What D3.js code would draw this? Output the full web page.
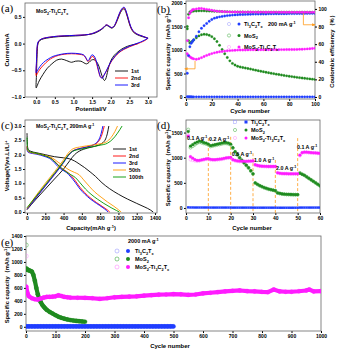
<!DOCTYPE html>
<html>
<head>
<meta charset="utf-8">
<script src="https://cdn.jsdelivr.net/npm/d3@7"></script>
<style>
body { margin: 0; background: #fff; }
text { font-family: "Liberation Sans", Arial, sans-serif; font-weight: bold; }
</style>
</head>
<body>
<div id="fig"></div>
<script>
// ---------- data ----------
// (a) CV, [potential V, current mA]
var cv1st = [[2.73,0.00],[2.6,-0.02],[2.45,-0.05],[2.3,-0.1],[2.15,-0.18],[2.05,-0.26],[1.98,-0.36],[1.93,-0.48],[1.89,-0.6],[1.86,-0.67],[1.83,-0.69],[1.79,-0.65],[1.74,-0.55],[1.68,-0.42],[1.62,-0.34],[1.55,-0.3],[1.48,-0.31],[1.42,-0.35],[1.35,-0.38],[1.28,-0.36],[1.2,-0.33],[1.05,-0.33],[0.95,-0.35],[0.82,-0.32],[0.68,-0.29],[0.55,-0.31],[0.42,-0.38],[0.3,-0.46],[0.18,-0.58],[0.08,-0.7],[0.02,-0.8],[0.0,-0.83],
  [0.01,-0.55],[0.025,-0.2],[0.05,0.0],[0.1,0.06],[0.2,0.09],[0.35,0.11],[0.6,0.13],[0.9,0.14],[1.2,0.15],[1.4,0.17],[1.55,0.19],[1.7,0.24],[1.8,0.29],[1.88,0.34],[1.95,0.32],[2.02,0.29],[2.08,0.31],[2.14,0.38],[2.2,0.48],[2.26,0.58],[2.32,0.64],[2.36,0.65],[2.41,0.58],[2.47,0.44],[2.53,0.31],[2.6,0.22],[2.7,0.17],[2.85,0.13],[3.0,0.1]];
var cv2nd = [[3.0,0.1],[2.92,0.06],[2.8,0.02],[2.65,-0.02],[2.5,-0.06],[2.35,-0.11],[2.22,-0.17],[2.12,-0.24],[2.03,-0.32],[1.95,-0.42],[1.88,-0.52],[1.81,-0.6],[1.76,-0.64],[1.72,-0.62],[1.68,-0.54],[1.64,-0.43],[1.6,-0.33],[1.55,-0.26],[1.5,-0.24],[1.46,-0.27],[1.42,-0.32],[1.38,-0.33],[1.33,-0.27],[1.27,-0.22],[1.15,-0.2],[0.95,-0.19],[0.75,-0.2],[0.6,-0.22],[0.45,-0.26],[0.32,-0.32],[0.2,-0.4],[0.1,-0.48],[0.03,-0.56],[0.0,-0.6],
  [0.01,-0.35],[0.025,-0.08],[0.05,0.02],[0.1,0.07],[0.2,0.1],[0.35,0.12],[0.6,0.14],[0.9,0.15],[1.2,0.16],[1.4,0.17],[1.55,0.2],[1.7,0.25],[1.8,0.3],[1.88,0.35],[1.95,0.33],[2.02,0.3],[2.08,0.32],[2.14,0.39],[2.2,0.5],[2.26,0.6],[2.32,0.66],[2.36,0.67],[2.41,0.6],[2.47,0.46],[2.53,0.32],[2.6,0.23],[2.7,0.18],[2.85,0.14],[3.0,0.1]];
var cv3rd = [[3.0,0.1],[2.92,0.07],[2.8,0.03],[2.65,-0.01],[2.5,-0.05],[2.35,-0.1],[2.22,-0.16],[2.12,-0.23],[2.03,-0.31],[1.95,-0.41],[1.88,-0.51],[1.82,-0.59],[1.77,-0.65],[1.73,-0.63],[1.69,-0.55],[1.65,-0.43],[1.6,-0.3],[1.55,-0.23],[1.5,-0.21],[1.46,-0.24],[1.42,-0.3],[1.38,-0.32],[1.33,-0.26],[1.27,-0.21],[1.15,-0.19],[0.95,-0.18],[0.75,-0.19],[0.6,-0.21],[0.45,-0.24],[0.32,-0.29],[0.2,-0.35],[0.1,-0.43],[0.03,-0.51],[0.0,-0.55],
  [0.01,-0.3],[0.025,-0.06],[0.05,0.03],[0.1,0.07],[0.2,0.1],[0.35,0.12],[0.6,0.14],[0.9,0.15],[1.2,0.16],[1.4,0.17],[1.55,0.2],[1.7,0.25],[1.8,0.3],[1.88,0.35],[1.95,0.33],[2.02,0.3],[2.08,0.32],[2.14,0.4],[2.2,0.51],[2.26,0.61],[2.32,0.67],[2.36,0.68],[2.41,0.61],[2.47,0.47],[2.53,0.33],[2.6,0.24],[2.7,0.18],[2.85,0.14],[3.0,0.1]];
var cvNames = ["1st", "2nd", "3rd"];

// (b) cycling at 200 mA/g
var bCycles = [1,2,3,4,5,6,8,10,12,14,16,18,20,22,24,26,28,30,32,34,36,38,40,42,44,46,48,50,52,54,56,58,60,62,64,66,68,70,72,74,76,78,80,82,84,86,88,90,92,94,96,98,100];
var bTiCap = [8,6,5,5,4,4,4,4,4,4,4,4,4,4,4,4,4,4,4,4,4,4,4,4,4,4,4,4,4,4,4,4,4,4,4,4,4,4,4,4,4,4,4,4,4,4,4,4,4,4,4,4,4];
var bMoCap = [1450,1200,1150,1165,1190,1215,1260,1300,1325,1335,1330,1315,1285,1240,1180,1100,1010,920,840,770,715,680,655,640,628,617,606,595,583,572,560,549,538,528,517,507,497,487,478,469,460,451,443,435,427,419,412,405,398,392,386,380,375];
var bMixCap = [920,880,855,835,822,812,803,815,838,862,886,906,924,940,952,962,970,977,983,988,992,995,998,1000,1001,1002,1003,1004,1005,1005,1006,1006,1007,1007,1007,1008,1008,1008,1008,1009,1009,1010,1010,1011,1012,1013,1015,1017,1020,1024,1028,1034,1040];
var bTiCE = [27,47,57,61,63,65,69,74,78,81,83.5,86,88,89.5,90.3,91,91.5,92,92.4,92.7,93,93.2,93.4,93.6,93.7,93.8,93.9,94,94.1,94.1,94.2,94.2,94.3,94.3,94.4,94.4,94.5,94.5,94.5,94.6,94.6,94.6,94.7,94.7,94.7,94.8,94.8,94.8,94.9,94.9,95,95,95];
var bMoCE = [80,94,96.5,97.2,97.5,97.6,97.7,97.8,97.8,97.8,97.7,97.6,97.5,97.4,97.3,97.2,97,96.9,96.8,96.7,96.6,96.6,96.5,96.5,96.5,96.4,96.5,96.4,96.4,96.4,96.5,96.4,96.3,96.4,96.3,96.3,96.4,96.3,96.3,96.3,96.2,96.3,96.3,96.2,96.3,96.2,96.2,96.3,96.2,96.2,96.2,96.1,96.2];
var bMixCE = [64,90,95,97.5,99,99.5,100,100.5,100.5,100,99.5,99,98.5,98,97.5,97.2,97,96.8,96.7,96.6,96.5,96.5,96.5,96.4,96.5,96.4,96.4,96.5,96.4,96.4,96.3,96.4,96.4,96.3,96.4,96.3,96.3,96.4,96.3,96.3,96.3,96.2,96.3,96.3,96.2,96.2,96.3,96.2,96.2,96.2,96.1,96.2,96.2];
var bArrowCap = [[7,770],[7,600],[-1,600]];   // points to left axis
var bArrowCE = [[91,95],[91,82],[100,82]];     // points to right axis

// (c) charge/discharge profiles, [capacity mAh/g, voltage V]
var dis1st = [[0,2.75],[5,2.3],[15,2.18],[40,2.12],[100,2.07],[200,2.0],[300,1.93],[400,1.89],[460,1.86],[520,1.78],[570,1.68],[630,1.55],[690,1.4],[750,1.24],[820,1.02],[900,0.82],[1000,0.62],[1100,0.45],[1200,0.3],[1290,0.17],[1350,0.07],[1380,0.0]];
var chg1st = [[0,0.08],[50,0.27],[100,0.45],[200,0.8],[300,1.15],[400,1.5],[470,1.8],[520,2.0],[570,2.12],[620,2.19],[700,2.26],[780,2.33],[830,2.42],[860,2.55],[880,2.75],[895,3.0]];
var dis2nd = [[0,2.3],[4,2.16],[20,2.1],[100,2.04],[200,1.96],[260,1.88],[300,1.78],[340,1.64],[380,1.52],[430,1.42],[480,1.28],[530,1.08],[580,0.86],[630,0.68],[690,0.5],[760,0.33],[830,0.18],[880,0.07],[905,0.0]];
var chg2nd = [[0,0.1],[50,0.32],[100,0.52],[200,0.92],[300,1.32],[400,1.75],[450,1.98],[500,2.13],[560,2.2],[650,2.27],[720,2.33],[770,2.42],[800,2.55],[825,2.75],[845,3.0]];
var dis3rd = [[0,2.25],[4,2.12],[20,2.07],[100,2.02],[200,1.93],[260,1.84],[300,1.72],[340,1.58],[380,1.48],[430,1.38],[480,1.22],[530,1.02],[580,0.8],[630,0.63],[690,0.46],[760,0.3],[830,0.15],[870,0.05],[885,0.0]];
var chg3rd = [[0,0.1],[50,0.3],[100,0.5],[200,0.9],[300,1.3],[400,1.72],[450,1.96],[500,2.12],[560,2.2],[650,2.26],[710,2.32],[760,2.42],[790,2.55],[812,2.75],[830,3.0]];
var dis50th = [[0,2.25],[4,2.16],[20,2.1],[100,2.04],[200,1.97],[280,1.88],[340,1.74],[400,1.6],[460,1.47],[520,1.38],[570,1.3],[620,1.12],[680,0.9],[740,0.7],[810,0.52],[880,0.35],[950,0.2],[1000,0.08],[1030,0.0]];
var chg50th = [[0,0.12],[50,0.35],[100,0.58],[200,1.0],[300,1.4],[400,1.82],[450,2.05],[500,2.2],[600,2.28],[700,2.33],[800,2.38],[870,2.45],[920,2.6],[960,2.8],[990,3.0]];
var dis100th = [[0,2.6],[3,2.25],[20,2.12],[100,2.05],[200,1.96],[270,1.85],[320,1.7],[370,1.55],[420,1.42],[480,1.3],[530,1.2],[580,1.02],[640,0.8],[700,0.62],[770,0.45],[840,0.3],[920,0.15],[980,0.05],[1010,0.0]];
var chg100th = [[0,0.15],[50,0.35],[100,0.55],[200,0.95],[300,1.35],[400,1.75],[450,1.98],[500,2.12],[600,2.2],[700,2.27],[800,2.33],[880,2.4],[940,2.55],[990,2.75],[1040,3.0]];
var cNames = ["1st", "2nd", "3rd", "50th", "100th"];

// (d) rate performance
var dCycles = [1,2,3,4,5,6,7,8,9,10,11,12,13,14,15,16,17,18,19,20,21,22,23,24,25,26,27,28,29,30,31,32,33,34,35,36,37,38,39,40,41,42,43,44,45,46,47,48,49,50,51,52,53,54,55,56,57,58,59,60];
var dTi = [12,10,10,9,9,9,9,9,9,9,8,8,8,8,8,8,8,8,8,8,7,7,7,7,7,7,7,7,7,7,6,6,6,6,6,6,6,6,6,6,5,5,5,5,5,5,5,5,5,5,8,8,8,8,8,8,8,8,8,8];
var dMo = [1520,1230,1260,1290,1310,1330,1320,1300,1290,1270, 1240,1250,1260,1270,1280,1290,1300,1300,1290,1270, 1200,1120,1060,1000,950,900,850,800,740,680, 500,470,445,425,405,390,375,365,355,345, 300,290,280,275,272,270,268,266,265,265, 690,670,650,620,590,560,530,500,470,440];
var dMoOpen = [1560,1200,1230,1260,1290,1310,1300,1285,1275,1255, 1225,1235,1245,1255,1265,1275,1285,1285,1275,1255, 1190,1115,1055,995,945,895,845,795,735,675, 495,468,443,423,403,388,373,363,353,343, 298,288,278,273,270,268,266,264,263,263, 700,672,650,620,590,560,530,500,470,440];
var dMix = [1430,1020,990,960,945,945,955,965,975,980, 965,960,960,965,970,975,985,995,1000,1005, 960,945,935,930,930,928,928,930,932,935, 860,845,835,830,828,826,825,825,825,825, 700,690,685,683,682,680,680,680,680,680, 1050,1100,1110,1110,1105,1100,1098,1095,1090,1085];
var dMixOpen = [1450,960,950,940,935,940,950,960,970,975, 960,955,955,960,965,970,980,990,995,1000, 955,940,930,925,925,924,924,926,928,930, 855,842,832,828,826,824,823,823,823,823, 698,688,683,681,680,678,678,678,678,678, 1040,1095,1105,1105,1100,1097,1094,1092,1088,1083];
var dRates = ["0.1 A g^{-1}", "0.2 A g^{-1}", "0.5 A g^{-1}", "1.0 A g^{-1}", "2.0 A g^{-1}", "0.1 A g^{-1}"];
var dRateCycle = [0.5, 10.3, 20.5, 30.5, 40.3, 49.7];
var dRateCap = [1352, 1332, 1034, 915, 755, 1173];
var dSplitCycle = [10, 20, 30, 40, 50];
var dSplitTop = [1390, 1415, 1090, 955, 1390];

// (e) long cycling at 2000 mA/g
var eTiCycles = [1,10,20,30,40,50,60,70,80,90,100,110,120,130,140,150,160,170,180,190,200,210,220,230,240,250,260,270,280,290,300,310,320,330,340,350,360,370,380,390,400,410,420,430,440,450,460,470,480,490,500];
var eTi = [6,5,5,5,5,5,5,5,5,5,5,5,5,5,5,5,5,5,5,5,5,5,5,5,5,5,5,5,5,5,5,5,5,5,5,5,5,5,5,5,5,5,5,5,5,5,5,5,5,5,5];
var eMoCycles = [1,3,5,8,10,15,20,25,30,35,40,45,50,55,60,65,70,80,90,100,110,120,130,140,150,160,170,180,190,200];
var eMo = [900,885,880,875,870,862,850,800,710,600,500,430,380,340,310,285,262,230,205,178,155,138,125,113,104,97,91,86,82,78];
var eMixCycles = [1,5,10,20,30,40,50,60,70,80,90,100,110,120,130,140,150,175,200,225,250,275,300,325,350,375,400,425,450,475,500,525,550,575,600,625,650,675,700,725,750,775,800,820,840,860,880,900,925,950,960,975,1000];
var eMix = [620,520,470,440,425,420,435,450,460,462,465,470,485,475,460,455,450,448,445,440,430,440,455,462,465,470,480,488,495,498,505,500,492,498,515,525,535,545,555,560,550,545,538,535,575,545,540,540,548,560,575,545,550];
var eOpenCycles = [1];
var eMoOpen = [1260];
var eMixOpen = [1090];

var materials = ["Ti_{3}C_{2}T_{x}", "MoS_{2}", "MoS_{2}-Ti_{3}C_{2}T_{x}"];

// ---------- drawing ----------
var fill = { ti: "#1f3dff", mo: "#1f8a1f", mix: "#ff1cff" };
var open = { ti: "#9a9aff", mo: "#3caa3c", mix: "#ff8cff" };
var orange = "#ff9a1a";

var svg = d3.select("#fig").append("svg").attr("width", 338).attr("height", 351);
var defs = svg.append("defs");
defs.append("marker").attr("id", "arr").attr("viewBox", "0 0 10 10").attr("refX", 9).attr("refY", 5)
  .attr("markerWidth", 4).attr("markerHeight", 4).attr("orient", "auto")
  .append("path").attr("d", "M0,0L10,5L0,10z").attr("fill", orange);

// text with _{sub} and ^{sup}
function rich(t, str, size) {
  var parts = str.split(/(_\{[^}]*\}|\^\{[^}]*\})/).filter(s => s.length);
  var off = 0;
  parts.forEach(p => {
    var shift = 0, s = size, txt = p;
    if (p[0] == "_") { shift = size * 0.3; s = size * 0.7; txt = p.slice(2, -1); }
    else if (p[0] == "^") { shift = -size * 0.4; s = size * 0.7; txt = p.slice(2, -1); }
    t.append("tspan").attr("dy", shift - off).attr("font-size", s).text(txt);
    off = shift;
  });
}
function label(x, y, str, size, opt) {
  opt = opt || {};
  var t = svg.append("text").attr("x", x).attr("y", y).attr("font-size", size);
  if (opt.anchor) t.attr("text-anchor", opt.anchor);
  if (opt.rotate) t.attr("transform", `rotate(-90,${x},${y})`);
  if (opt.fill) t.attr("fill", opt.fill);
  rich(t, str, size);
  return t;
}
function tagLabel(x, y, s) {
  svg.append("text").attr("x", x).attr("y", y).attr("font-size", 11)
    .style("font-family", "'Liberation Serif', 'Times New Roman', serif").style("font-weight", "normal").text(s);
}

function makePanel(p) {
  var x = d3.scaleLinear().domain(p.xd).range([p.x0, p.x1]);
  var y = d3.scaleLinear().domain(p.yd).range([p.y1, p.y0]);
  var id = "clip" + p.name;
  defs.append("clipPath").attr("id", id).append("rect")
    .attr("x", p.x0).attr("y", p.y0).attr("width", p.x1 - p.x0).attr("height", p.y1 - p.y0);
  var g = svg.append("g");
  var ax = g.append("g").attr("transform", `translate(0,${p.y1})`)
    .call(d3.axisBottom(x).tickValues(p.xt).tickSize(2).tickPadding(1.5).tickFormat(p.xf || d3.format("d")));
  var ay = g.append("g").attr("transform", `translate(${p.x0},0)`)
    .call(d3.axisLeft(y).tickValues(p.yt).tickSize(2).tickPadding(1.5).tickFormat(p.yf || d3.format("d")));
  [ax, ay].forEach(a => { a.select(".domain").remove(); a.attr("font-size", 5); });
  g.append("rect").attr("x", p.x0).attr("y", p.y0).attr("width", p.x1 - p.x0).attr("height", p.y1 - p.y0)
    .attr("fill", "none").attr("stroke", "#666").attr("stroke-width", 0.8);
  var plot = svg.append("g").attr("clip-path", `url(#${id})`);
  return { x: x, y: y, g: g, plot: plot };
}

function dots(plot, xs, ys, sx, sy, r, color, hollow) {
  plot.append("g").selectAll("circle").data(xs).enter().append("circle")
    .attr("cx", (d, i) => sx(d)).attr("cy", (d, i) => sy(ys[i])).attr("r", r)
    .attr("fill", hollow ? "none" : color).attr("stroke", color).attr("stroke-width", hollow ? 0.5 : 0.3);
}

// ----- (a)
var A = makePanel({ name: "a", x0: 25, x1: 157, y0: 3, y1: 97, xd: [-0.3, 3.24], yd: [-1.0, 0.76],
  xt: [0, 0.5, 1, 1.5, 2, 2.5, 3], yt: [-1, -0.5, 0, 0.5], xf: d3.format(".1f"), yf: d3.format(".1f") });
var lineA = d3.line().x(d => A.x(d[0])).y(d => A.y(d[1])).curve(d3.curveCatmullRom.alpha(0.5));
var cvColors = ["#000000", "#ff0000", "#0000ff"];
[cv1st, cv2nd, cv3rd].forEach((s, i) => A.plot.append("path").attr("d", lineA(s))
  .attr("fill", "none").attr("stroke", cvColors[i]).attr("stroke-width", 0.9));
cvNames.forEach((n, i) => {
  svg.append("line").attr("x1", 115).attr("x2", 128).attr("y1", 71 + i * 7).attr("y2", 71 + i * 7)
    .attr("stroke", cvColors[i]).attr("stroke-width", 0.9);
  label(131, 73 + i * 7, n, 5.5);
});
label(36, 13, "MoS_{2}-Ti_{3}C_{2}T_{x}", 5.2);
label(9, 50, "Current/mA", 6, { anchor: "middle", rotate: true });
label(91, 111, "Potential/V", 6, { anchor: "middle" });
tagLabel(1, 12, "(a)");

// ----- (b)
var B = makePanel({ name: "b", x0: 186, x1: 315, y0: 1, y1: 99, xd: [0, 100], yd: [-42, 2043],
  xt: [0, 20, 40, 60, 80, 100], yt: [0, 500, 1000, 1500, 2000] });
var yCE = d3.scaleLinear().domain([-2.3, 109]).range([99, 1]);
var ar = B.g.append("g").attr("transform", "translate(315,0)")
  .call(d3.axisRight(yCE).tickValues([0, 20, 40, 60, 80, 100]).tickSize(2).tickPadding(1.5));
ar.select(".domain").remove(); ar.attr("font-size", 5);
dots(B.plot, bCycles, bTiCap, B.x, B.y, 1.2, fill.ti);
dots(B.plot, bCycles, bMoCap, B.x, B.y, 1.2, fill.mo);
dots(B.plot, bCycles, bMixCap, B.x, B.y, 1.2, fill.mix);
dots(B.plot, bCycles, bTiCE, B.x, yCE, 1.2, fill.ti);
dots(B.plot, bCycles, bMoCE, B.x, yCE, 1.2, fill.mo);
dots(B.plot, bCycles, bMixCE, B.x, yCE, 1.2, fill.mix);
var lineB = d3.line();
svg.append("path").attr("d", lineB(bArrowCap.map(d => [B.x(d[0]), B.y(d[1])])))
  .attr("fill", "none").attr("stroke", orange).attr("stroke-width", 0.8).attr("marker-end", "url(#arr)");
svg.append("path").attr("d", lineB(bArrowCE.map(d => [B.x(d[0]), yCE(d[1])])))
  .attr("fill", "none").attr("stroke", orange).attr("stroke-width", 0.8).attr("marker-end", "url(#arr)");
["ti", "mo", "mix"].forEach((k, i) => {
  var yy = 24 + i * 11.5;
  svg.append("circle").attr("cx", 229).attr("cy", yy).attr("r", 1.6).attr("fill", "none").attr("stroke", open[k]).attr("stroke-width", 0.5);
  svg.append("circle").attr("cx", 239).attr("cy", yy).attr("r", 1.5).attr("fill", fill[k]);
  label(244, yy + 2, materials[i], 5.5);
});
label(268, 26, "200 mA g^{-1}", 5.5);
label(170, 50, "Specific capacity（mAh g^{-1}）", 5.8, { anchor: "middle", rotate: true });
label(334, 50, "Coulombic efficiency（%）", 5.8, { anchor: "middle", rotate: true });
label(250, 113, "Cycle number", 6, { anchor: "middle" });
tagLabel(157, 13, "(b)");

// ----- (c)
var C = makePanel({ name: "c", x0: 25, x1: 157, y0: 120, y1: 213, xd: [-22, 1422], yd: [-0.035, 3.21],
  xt: [0, 200, 400, 600, 800, 1000, 1200, 1400], yt: [0, 0.5, 1, 1.5, 2, 2.5, 3], yf: d3.format(".1f") });
var lineC = d3.line().x(d => C.x(d[0])).y(d => C.y(d[1])).curve(d3.curveMonotoneX);
var cColors = ["#000000", "#ff0000", "#0000ff", "#ff9900", "#009900"];
[[dis1st, chg1st], [dis2nd, chg2nd], [dis3rd, chg3rd], [dis50th, chg50th], [dis100th, chg100th]].forEach((pair, i) => {
  pair.forEach(s => C.plot.append("path").attr("d", lineC(s))
    .attr("fill", "none").attr("stroke", cColors[i]).attr("stroke-width", 0.9));
});
cNames.forEach((n, i) => {
  var yy = 149 + i * 7;
  svg.append("line").attr("x1", 113).attr("x2", 126).attr("y1", yy).attr("y2", yy)
    .attr("stroke", cColors[i]).attr("stroke-width", 0.9);
  label(129, yy + 2, n, 5.5);
});
label(36, 128, "MoS_{2}-Ti_{3}C_{2}T_{x} 200mA g^{-1}", 5.2);
label(9, 166, "Voltage(V)vs.Li/Li^{+}", 5.8, { anchor: "middle", rotate: true });
label(91, 230, "Capacity(mAh g^{-1})", 5.8, { anchor: "middle" });
tagLabel(1, 129, "(c)");

// ----- (d)
var D = makePanel({ name: "d", x0: 186, x1: 320, y0: 120, y1: 213, xd: [0, 60], yd: [-100, 1750],
  xt: [0, 10, 20, 30, 40, 50, 60], yt: [0, 500, 1000, 1500] });
dSplitCycle.forEach((c, i) => D.plot.append("line").attr("x1", D.x(c)).attr("x2", D.x(c))
  .attr("y1", D.y(dSplitTop[i])).attr("y2", 213).attr("stroke", orange).attr("stroke-width", 0.8)
  .attr("stroke-dasharray", "3,2"));
D.plot.append("g").selectAll("rect").data(dCycles).enter().append("rect")
  .attr("x", d => D.x(d) - 1.2).attr("y", (d, i) => D.y(dTi[i]) - 1.2).attr("width", 2.4).attr("height", 2.4)
  .attr("fill", fill.ti);
dots(D.plot, dCycles, dMoOpen, D.x, D.y, 1.5, open.mo, true);
dots(D.plot, dCycles, dMixOpen, D.x, D.y, 1.5, open.mix, true);
dots(D.plot, dCycles, dMo, D.x, D.y, 1.4, fill.mo);
dots(D.plot, dCycles, dMix, D.x, D.y, 1.4, fill.mix);
dRates.forEach((r, i) => label(D.x(dRateCycle[i]), D.y(dRateCap[i]), r, 5.3));
["ti", "mo", "mix"].forEach((k, i) => {
  var yy = 122 + i * 8;
  if (k == "ti") {
    svg.append("rect").attr("x", 233.5).attr("y", yy - 1.5).attr("width", 3).attr("height", 3).attr("fill", "none").attr("stroke", open[k]).attr("stroke-width", 0.5);
    svg.append("rect").attr("x", 244.5).attr("y", yy - 1.5).attr("width", 3).attr("height", 3).attr("fill", fill[k]);
  } else {
    svg.append("circle").attr("cx", 235).attr("cy", yy).attr("r", 1.6).attr("fill", "none").attr("stroke", open[k]).attr("stroke-width", 0.5);
    svg.append("circle").attr("cx", 246).attr("cy", yy).attr("r", 1.5).attr("fill", fill[k]);
  }
  label(251, yy + 2, materials[i], 5.5);
});
label(170, 166, "Specific capacity（mAh g^{-1}）", 5.8, { anchor: "middle", rotate: true });
label(252, 230, "Cycle number", 6, { anchor: "middle" });
tagLabel(157, 129, "(d)");

// ----- (e)
var E = makePanel({ name: "e", x0: 26, x1: 321, y0: 236, y1: 331, xd: [0, 1000], yd: [-65, 1400],
  xt: [0, 100, 200, 300, 400, 500, 600, 700, 800, 900, 1000], yt: [0, 200, 400, 600, 800, 1000, 1200, 1400] });
var lineE = d3.line().x(d => E.x(d[0])).y(d => E.y(d[1]));
function band(xs, ys, color, w) {
  E.plot.append("path").attr("d", lineE(xs.map((c, i) => [c, ys[i]])))
    .attr("fill", "none").attr("stroke", color).attr("stroke-width", w).attr("stroke-linejoin", "round");
}
band(eTiCycles, eTi, fill.ti, 4.2);
dots(E.plot, eTiCycles, eTi, E.x, E.y, 2.1, fill.ti);
band(eMoCycles, eMo, fill.mo, 4.2);
dots(E.plot, eMoCycles, eMo, E.x, E.y, 2.1, fill.mo);
band(eMixCycles, eMix, fill.mix, 4.2);
dots(E.plot, eMixCycles, eMix, E.x, E.y, 2.1, fill.mix);
dots(E.plot, eOpenCycles, eMoOpen, E.x, E.y, 2.0, open.mo, true);
dots(E.plot, eOpenCycles, eMixOpen, E.x, E.y, 2.0, open.mix, true);
label(128, 243, "2000 mA g^{-1}", 5.5);
["ti", "mo", "mix"].forEach((k, i) => {
  var yy = 251 + i * 8;
  svg.append("circle").attr("cx", 117).attr("cy", yy).attr("r", 2).attr("fill", "none").attr("stroke", open[k]).attr("stroke-width", 0.6);
  svg.append("circle").attr("cx", 128).attr("cy", yy).attr("r", 2).attr("fill", fill[k]);
  label(135, yy + 2, materials[i], 5.5);
});
label(9, 283, "Specific capacity（mAh g^{-1}）", 5.8, { anchor: "middle", rotate: true });
label(170, 348, "Cycle number", 6, { anchor: "middle" });
tagLabel(1, 246, "(e)");
</script>
</body>
</html>
